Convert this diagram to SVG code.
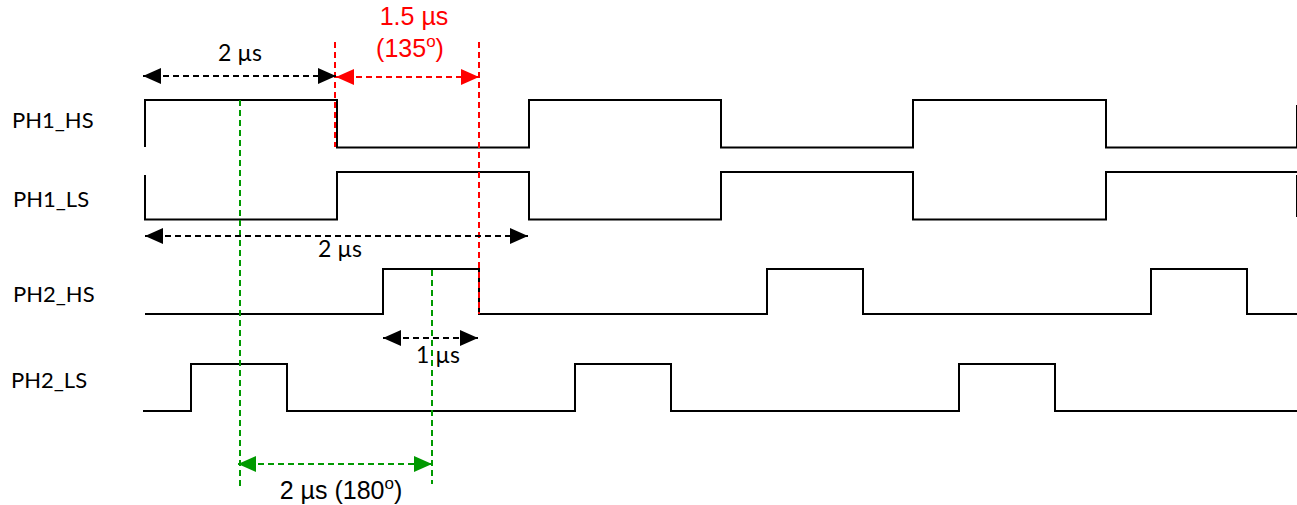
<svg xmlns="http://www.w3.org/2000/svg" width="1297" height="505" viewBox="0 0 1297 505">
<style>
.sig{fill:none;stroke:#000;stroke-width:2}
.lbl{font-family:Lato,"Liberation Sans",sans-serif;font-size:22px;fill:#000}
.dim{font-family:Lato,"Liberation Sans",sans-serif;font-size:23px;fill:#000}
.big{font-family:"Liberation Sans",Arial,sans-serif;font-size:25px}
.bd{stroke:#000;stroke-width:2;stroke-dasharray:6 4;fill:none}
.rd{stroke:#ff0000;stroke-width:2;stroke-dasharray:6 4;fill:none}
.gd{stroke:#009900;stroke-width:2;stroke-dasharray:6 4;fill:none}
</style>
<defs>
<marker id="ab" markerUnits="userSpaceOnUse" markerWidth="18" markerHeight="16" refX="18" refY="8" orient="auto-start-reverse"><path d="M0,0 L18,8 L0,16 Z" fill="#000"/></marker>
<marker id="ar" markerUnits="userSpaceOnUse" markerWidth="18" markerHeight="16" refX="18" refY="8" orient="auto-start-reverse"><path d="M0,0 L18,8 L0,16 Z" fill="#ff0000"/></marker>
<marker id="ag" markerUnits="userSpaceOnUse" markerWidth="18" markerHeight="16" refX="18" refY="8" orient="auto-start-reverse"><path d="M0,0 L18,8 L0,16 Z" fill="#009900"/></marker>
</defs>
<rect width="1297" height="505" fill="#fff"/>
<g id="ph1_hs">
<text class="lbl" x="12" y="128">PH1_HS</text>
<path class="sig" d="M145,147 V100 H337 V147.5 H529 V100 H721 V147.5 H913 V100 H1106 V147.5 H1297"/>
<path class="sig" d="M1297,105 V147"/>
</g>
<g id="ph1_ls">
<text class="lbl" x="13" y="207">PH1_LS</text>
<path class="sig" d="M145,175 V219.5 H337 V172 H529 V219.5 H721 V172 H913 V219.5 H1106 V172 H1297"/>
<path class="sig" d="M1297,175 V217"/>
</g>
<g id="ph2_hs">
<text class="lbl" x="13" y="302">PH2_HS</text>
<path class="sig" d="M145,314 H383 V269 H479 V314 H767 V269 H863 V314 H1151 V269 H1247 V314 H1297"/>
</g>
<g id="ph2_ls">
<text class="lbl" x="11" y="388">PH2_LS</text>
<path class="sig" d="M143,411 H191 V364 H287 V411 H575 V364 H671 V411 H959 V364 H1055 V411 H1297"/>
</g>
<g id="connectors">
<line class="rd" x1="335" y1="42" x2="335" y2="147"/>
<line class="rd" x1="479" y1="42" x2="479" y2="314"/>
<line class="gd" x1="240" y1="100" x2="240" y2="490"/>
<line class="gd" x1="432" y1="270" x2="432" y2="484"/>
<line class="bd" x1="143" y1="76" x2="336" y2="76" marker-start="url(#ab)" marker-end="url(#ab)"/>
<line class="rd" x1="336" y1="77" x2="479" y2="77" marker-start="url(#ar)" marker-end="url(#ar)"/>
<line class="bd" x1="145" y1="236" x2="528" y2="236" marker-start="url(#ab)" marker-end="url(#ab)"/>
<line class="bd" x1="383" y1="338" x2="478" y2="338" marker-start="url(#ab)" marker-end="url(#ab)"/>
<line class="gd" x1="238" y1="464" x2="432" y2="464" marker-start="url(#ag)" marker-end="url(#ag)"/>
</g>
<g id="labels">
<text class="dim" x="240" y="61" text-anchor="middle">2 µs</text>
<text class="dim" x="340" y="257" text-anchor="middle">2 µs</text>
<text class="dim" x="438" y="363" text-anchor="middle">1 µs</text>
<text class="big" x="414" y="25" text-anchor="middle" fill="#ff0000">1.5 µs</text>
<text class="big" x="410" y="57" text-anchor="middle" fill="#ff0000">(135<tspan font-size="17" dy="-10">o</tspan><tspan dy="10">)</tspan></text>
<text class="big" x="341" y="499" text-anchor="middle" fill="#000">2 µs (180<tspan font-size="17" dy="-10">o</tspan><tspan dy="10">)</tspan></text>
</g>
</svg>
